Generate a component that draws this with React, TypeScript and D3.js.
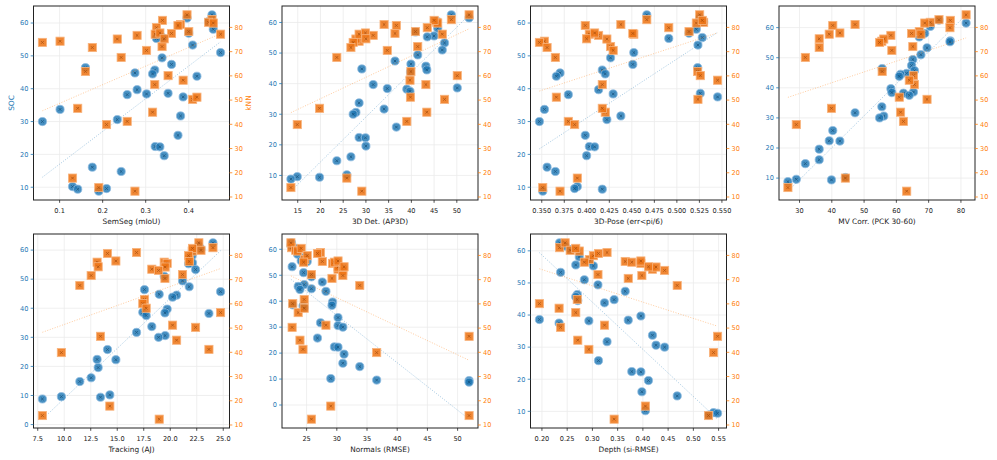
import * as d3 from "d3";

// one entry per model; every panel shares the same SOC / kNN scores
const SOC = [62.5, 61.5, 60.4, 58.1, 56.9, 55.6, 55.3, 53.3, 51.0, 49.4, 47.4, 46.4, 45.7, 44.8, 44.5, 43.8, 39.7, 38.6, 38.4, 38.2, 37.5, 33.7, 31.7, 30.6, 30.0, 25.8, 22.4, 22.3, 19.6, 16.1, 14.8, 10.2, 9.6, 9.4, 8.8];
const KNN = [83.2, 85.2, 82.1, 81.8, 78.3, 82.9, 79.9, 50.3, 77.2, 72.1, 77.5, 61.8, 56.4, 12.4, 45.0, 51.2, 76.7, 60.1, 70.5, 41.2, 58.2, 74.3, 81.2, 75.2, 73.8, 80.8, 77.2, 77.7, 75.3, 71.7, 67.6, 17.8, 39.9, 46.6, 13.9];

// downstream task scores, same model order
const SEMSEG = [0.454, 0.396, 0.446, 0.457, 0.400, 0.339, 0.325, 0.409, 0.474, 0.338, 0.360, 0.160, 0.321, 0.275, 0.316, 0.419, 0.280, 0.352, 0.302, 0.257, 0.387, 0.101, 0.381, 0.234, 0.060, 0.375, 0.322, 0.333, 0.343, 0.176, 0.243, 0.130, 0.209, 0.142, 0.191];
const DET3D = [48.8, 52.7, 45.6, 45.8, 40.9, 45.0, 43.5, 47.3, 46.8, 41.4, 36.4, 39.9, 43.2, 29.1, 43.4, 39.8, 31.6, 50.1, 34.7, 39.0, 39.7, 28.5, 34.0, 27.8, 27.2, 36.7, 28.5, 29.9, 30.0, 26.7, 23.6, 25.8, 14.9, 19.8, 13.5];
const POSE3D = [0.4666, 0.5253, 0.5297, 0.5216, 0.5135, 0.5282, 0.491, 0.5234, 0.4522, 0.4264, 0.4511, 0.5231, 0.4172, 0.3703, 0.4205, 0.3662, 0.4131, 0.526, 0.4293, 0.3795, 0.5452, 0.353, 0.4378, 0.4223, 0.3474, 0.3983, 0.4028, 0.4087, 0.3998, 0.3559, 0.3651, 0.3895, 0.3865, 0.4172, 0.3511];
const MVCORR = [73.2, 81.6, 70.5, 68.8, 67.1, 76.7, 76.6, 69.5, 67.6, 65.1, 64.7, 55.6, 65.6, 63.2, 61.3, 60.9, 58.3, 65.3, 58.6, 62.2, 64.0, 55.5, 47.2, 56.1, 54.8, 40.3, 39.2, 42.5, 36.1, 36.1, 31.8, 44.2, 29.0, 39.9, 26.4];
const TRACKING = [24.03, 22.7, 22.9, 22.07, 21.79, 22.1, 21.73, 22.39, 19.43, 21.16, 21.79, 17.57, 24.75, 18.96, 20.6, 20.22, 19.71, 17.41, 19.5, 23.65, 17.73, 18.26, 16.82, 19.52, 18.9, 14.08, 13.1, 14.87, 13.2, 12.54, 11.47, 14.3, 9.73, 13.42, 7.94];
const NORMALS = [22.5, 22.4, 23.2, 23.5, 24.7, 24.1, 25.1, 22.6, 24.5, 25.8, 27.6, 24.6, 23.6, 25.8, 23.9, 28.2, 29.3, 22.7, 29.2, 24.4, 24.6, 30.2, 27.3, 30.2, 31.0, 26.8, 29.6, 30.2, 31.2, 31.0, 33.8, 29.0, 36.6, 51.9, 51.9];
const DEPTH = [0.235, 0.246, 0.256, 0.274, 0.294, 0.267, 0.302, 0.237, 0.284, 0.311, 0.365, 0.270, 0.267, 0.343, 0.271, 0.324, 0.396, 0.195, 0.371, 0.293, 0.234, 0.419, 0.329, 0.426, 0.443, 0.312, 0.378, 0.396, 0.411, 0.398, 0.468, 0.405, 0.540, 0.548, 0.530];

const SEMSEG_TICKS = [0.1, 0.2, 0.3, 0.4];
const DET3D_TICKS = [15, 20, 25, 30, 35, 40, 45, 50];
const POSE3D_TICKS = [0.35, 0.375, 0.4, 0.425, 0.45, 0.475, 0.5, 0.525, 0.55];
const MVCORR_TICKS = [30, 40, 50, 60, 70, 80];
const TRACKING_TICKS = [7.5, 10, 12.5, 15, 17.5, 20, 22.5, 25];
const NORMALS_TICKS = [25, 30, 35, 40, 45, 50];
const DEPTH_TICKS = [0.2, 0.25, 0.3, 0.35, 0.4, 0.45, 0.5, 0.55];
const SOC_TICKS = [0, 10, 20, 30, 40, 50, 60];
const KNN_TICKS = [10, 20, 30, 40, 50, 60, 70, 80];

const PANELS = [
  { label: "SemSeg (mIoU)", xs: SEMSEG, ticks: SEMSEG_TICKS, fmt: ".1f" },
  { label: "3D Det. (AP3D)", xs: DET3D, ticks: DET3D_TICKS, fmt: "d" },
  { label: "3D-Pose (err<pi/6)", xs: POSE3D, ticks: POSE3D_TICKS, fmt: ".3f" },
  { label: "MV Corr. (PCK 30-60)", xs: MVCORR, ticks: MVCORR_TICKS, fmt: "d" },
  { label: "Tracking (AJ)", xs: TRACKING, ticks: TRACKING_TICKS, fmt: ".1f" },
  { label: "Normals (RMSE)", xs: NORMALS, ticks: NORMALS_TICKS, fmt: "d" },
  { label: "Depth (si-RMSE)", xs: DEPTH, ticks: DEPTH_TICKS, fmt: ".2f" },
];

const BLUE = "#1f77b4";
const ORANGE = "#ff7f0e";
const FONT = "DejaVu Sans, sans-serif";
const W = 196;
const H = 194;

function fit(xs: number[], ys: number[]) {
  const mx = d3.mean(xs)!;
  const my = d3.mean(ys)!;
  const sxy = d3.sum(xs, (x, i) => (x - mx) * (ys[i] - my));
  const sxx = d3.sum(xs, (x) => (x - mx) ** 2);
  const slope = sxy / sxx;
  return (x: number) => my + slope * (x - mx);
}

function padded(vals: number[]): [number, number] {
  const [lo, hi] = d3.extent(vals) as [number, number];
  const m = (hi - lo) * 0.05;
  return [lo - m, hi + m];
}

function Panel({ idx }: { idx: number }) {
  const p = PANELS[idx];
  const col = idx % 4;
  const row = Math.floor(idx / 4);
  const left = 33.5 + col * 248.5;
  const top = row === 0 ? 6 : 234;

  const [x0, x1] = d3.extent(p.xs) as [number, number];
  const socLine = fit(p.xs, SOC);
  const knnLine = fit(p.xs, KNN);

  const x = d3.scaleLinear().domain(padded(p.xs)).range([0, W]);
  const ySoc = d3.scaleLinear().domain(padded([...SOC, socLine(x0), socLine(x1)])).range([H, 0]);
  const yKnn = d3.scaleLinear().domain(padded([...KNN, knnLine(x0), knnLine(x1)])).range([H, 0]);

  const fmt = d3.format(p.fmt);
  const socTicks = SOC_TICKS.filter((t) => t >= ySoc.domain()[0] && t <= ySoc.domain()[1]);
  const knnTicks = KNN_TICKS.filter((t) => t >= yKnn.domain()[0] && t <= yKnn.domain()[1]);

  const cross = "M-1.3,-1.3L1.3,1.3M-1.3,1.3L1.3,-1.3";

  return (
    <g transform={`translate(${left},${top})`} fontFamily={FONT}>
      {/* grid */}
      {p.ticks.map((t) => (
        <line key={`gx${t}`} x1={x(t)} x2={x(t)} y1={0} y2={H} stroke="#ebebeb" strokeWidth={0.8} />
      ))}
      {socTicks.map((t) => (
        <line key={`gy${t}`} x1={0} x2={W} y1={ySoc(t)} y2={ySoc(t)} stroke="#ebebeb" strokeWidth={0.8} />
      ))}

      {/* SOC series */}
      {p.xs.map((v, i) => (
        <g key={`c${i}`} transform={`translate(${x(v)},${ySoc(SOC[i])})`}>
          <circle r={4.1} fill={BLUE} fillOpacity={0.82} stroke="#8dbadf" strokeWidth={0.8} />
          <path d={cross} stroke="#114a73" strokeWidth={0.9} opacity={0.75} />
        </g>
      ))}
      <line x1={x(x0)} y1={ySoc(socLine(x0))} x2={x(x1)} y2={ySoc(socLine(x1))}
        stroke={BLUE} strokeOpacity={0.45} strokeWidth={0.9} strokeDasharray="1,1.6" />

      {/* kNN series on the twin axis */}
      {p.xs.map((v, i) => (
        <g key={`s${i}`} transform={`translate(${x(v)},${yKnn(KNN[i])})`}>
          <rect x={-4.1} y={-4.1} width={8.2} height={8.2} fill="#ee7618" fillOpacity={0.88} stroke="#f8b47e" strokeWidth={0.8} />
          <path d={cross} stroke="#9a4307" strokeWidth={0.9} opacity={0.7} />
        </g>
      ))}
      <line x1={x(x0)} y1={yKnn(knnLine(x0))} x2={x(x1)} y2={yKnn(knnLine(x1))}
        stroke={ORANGE} strokeOpacity={0.45} strokeWidth={0.9} strokeDasharray="1,1.6" />

      {/* frame */}
      <rect x={0} y={0} width={W} height={H} fill="none" stroke="#222" strokeWidth={1} />

      {/* bottom axis */}
      {p.ticks.map((t) => (
        <g key={`tx${t}`} transform={`translate(${x(t)},${H})`}>
          <line y2={2.8} stroke="#222" strokeWidth={0.8} />
          <text y={13} textAnchor="middle" fontSize={6.6} fill="#222">{fmt(t)}</text>
        </g>
      ))}
      <text x={W / 2} y={H + 23.5} textAnchor="middle" fontSize={7.4} fill="#222">{p.label}</text>

      {/* left axis */}
      {socTicks.map((t) => (
        <g key={`ty${t}`} transform={`translate(0,${ySoc(t)})`}>
          <line x2={-2.8} stroke={BLUE} strokeWidth={0.8} />
          <text x={-5} dy="0.35em" textAnchor="end" fontSize={6.6} fill={BLUE}>{t}</text>
        </g>
      ))}

      {/* right axis */}
      {knnTicks.map((t) => (
        <g key={`tk${t}`} transform={`translate(${W},${yKnn(t)})`}>
          <line x2={2.8} stroke={ORANGE} strokeWidth={0.8} />
          <text x={5} dy="0.35em" textAnchor="start" fontSize={6.6} fill={ORANGE}>{t}</text>
        </g>
      ))}

      {idx === 0 && (
        <>
          <text transform={`translate(-20,${H / 2}) rotate(-90)`} textAnchor="middle" fontSize={7.4} fill={BLUE}>SOC</text>
          <text transform={`translate(${W + 21},${H / 2}) rotate(-90)`} textAnchor="middle" fontSize={7.4} fill={ORANGE}>kNN</text>
        </>
      )}
    </g>
  );
}

export default function App() {
  return (
    <svg width={997} height={460} style={{ position: "absolute", left: 0, top: 0, background: "#fff" }}>
      {PANELS.map((_, i) => (
        <Panel key={i} idx={i} />
      ))}
    </svg>
  );
}
